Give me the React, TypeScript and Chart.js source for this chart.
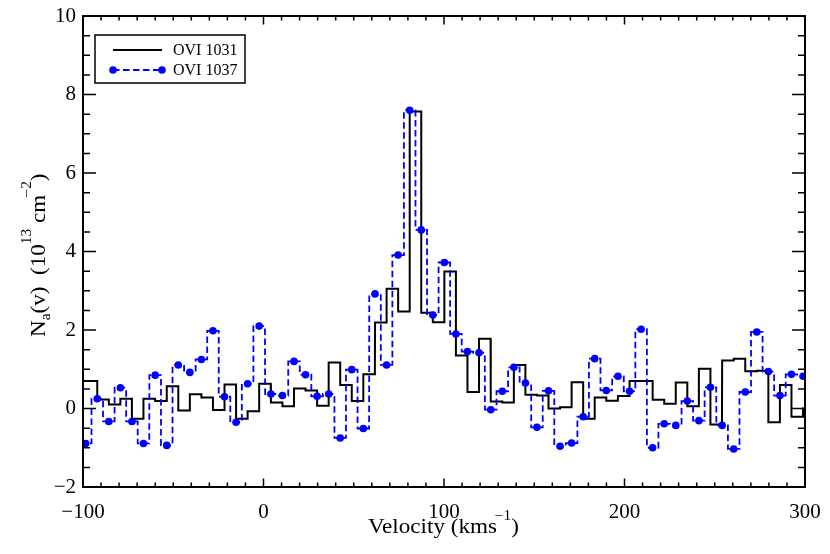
import React, { useEffect, useRef } from 'react';
import { Chart, registerables } from 'chart.js';

Chart.register(...registerables);

// ---------------- data ----------------
// OVI 1037: bin-centre velocities (km/s) and apparent column density (10^13 cm^-2)
const VEL_1037 = [
  -98.5, -92.1, -85.7, -79.3, -72.9, -66.5, -60.0, -53.6, -47.2, -40.8,
  -34.4, -28.0, -21.6, -15.2, -8.8, -2.4, 4.1, 10.5, 16.9, 23.3,
  29.7, 36.1, 42.5, 48.9, 55.3, 61.8, 68.2, 74.6, 81.0, 87.4,
  93.8, 100.2, 106.6, 113.0, 119.4, 125.9, 132.3, 138.7, 145.1, 151.5,
  157.9, 164.3, 170.7, 177.1, 183.5, 189.9, 196.4, 202.8, 209.2, 215.6,
  222.0, 228.4, 234.8, 241.2, 247.6, 254.1, 260.5, 266.9, 273.3, 279.7,
  286.1, 292.5, 298.9,
];
const NA_1037 = [
  -0.89, 0.25, -0.33, 0.53, -0.33, -0.89, 0.85, -0.94, 1.11, 0.92,
  1.25, 1.98, 0.30, -0.35, 0.63, 2.10, 0.37, 0.33, 1.20, 0.86,
  0.31, 0.37, -0.75, 0.99, -0.51, 2.92, 1.11, 3.91, 7.60, 4.55,
  2.38, 3.72, 1.90, 1.45, 1.42, -0.03, 0.44, 1.05, 0.65, -0.48,
  0.45, -0.96, -0.88, -0.21, 1.27, 0.46, 0.82, 0.44, 2.02, -1.00,
  -0.39, -0.43, 0.19, -0.31, 0.54, -0.43, -1.03, 0.42, 1.95, 0.94,
  0.33, 0.87, 0.82,
];

// OVI 1031: bin-centre velocities (km/s) and apparent column density (10^13 cm^-2)
const VEL_1031 = [
  -101.7, -95.3, -88.9, -82.5, -76.1, -69.7, -63.3, -56.8, -50.4, -44.0,
  -37.6, -31.2, -24.8, -18.4, -12.0, -5.6, 0.8, 7.3, 13.7, 20.1,
  26.5, 32.9, 39.3, 45.7, 52.1, 58.5, 65.0, 71.4, 77.8, 84.2,
  90.6, 97.0, 103.4, 109.8, 116.2, 122.6, 129.1, 135.5, 141.9, 148.3,
  154.7, 161.1, 167.5, 173.9, 180.3, 186.7, 193.1, 199.6, 206.0, 212.4,
  218.8, 225.2, 231.6, 238.0, 244.4, 250.8, 257.3, 263.7, 270.1, 276.5,
  282.9, 289.3, 295.7, 302.1,
];
const NA_1031 = [
  0.70, 0.70, 0.23, 0.10, 0.25, -0.26, 0.25, 0.19, 0.57, -0.05,
  0.36, 0.28, -0.04, 0.61, -0.26, -0.07, 0.63, 0.15, 0.06, 0.51,
  0.46, 0.07, 1.17, 0.60, 0.19, 0.87, 2.19, 3.05, 2.47, 7.57,
  2.44, 2.20, 3.49, 1.35, 0.42, 1.78, 0.18, 0.15, 1.11, 0.35,
  0.33, 0.00, 0.03, 0.67, -0.26, 0.28, 0.20, 0.32, 0.70, 0.70,
  0.22, 0.12, 0.66, 0.06, 1.01, -0.41, 1.22, 1.27, 0.95, 0.96,
  -0.35, 0.60, -0.21, 0.00,
];

const BIN_HALF_WIDTH = 3.2;
const X_MIN = -100;
const X_MAX = 300;
const Y_MIN = -2;
const Y_MAX = 10;
const X_MAJOR = 100;
const X_MINOR = 10;
const Y_MAJOR = 2;
const Y_MINOR = 0.5;
const LEGEND_LABELS = ['OVI 1031', 'OVI 1037'];

const BLUE = '#0000ff';
const SERIF = '"Liberation Serif", "DejaVu Serif", serif';

// histogram outline from bin centres
function histogram(vel: number[], val: number[], half: number) {
  const pts: { x: number; y: number }[] = [];
  for (let i = 0; i < vel.length; i++) {
    pts.push({ x: vel[i] - half, y: val[i] });
    pts.push({ x: vel[i] + half, y: val[i] });
  }
  return pts;
}

function fmt(v: number) {
  return v < 0 ? '\u2212' + Math.abs(v) : String(v);
}

type Part = { t: string; mode?: 'sup' | 'sub'; kern?: number };

// draw text pieces with super/subscripts along the baseline at (x, y), horizontally stretched by h
function drawRich(ctx: CanvasRenderingContext2D, parts: Part[], size: number, x: number, y: number, h: number) {
  ctx.save();
  ctx.translate(x, y);
  ctx.scale(h, 1);
  let cx = 0;
  for (const p of parts) {
    const s = p.mode ? Math.round(size * 0.66) : size;
    ctx.font = `${s}px ${SERIF}`;
    const dy = p.mode === 'sup' ? -size * 0.64 : p.mode === 'sub' ? size * 0.25 : 0;
    cx += p.kern || 0;
    ctx.fillText(p.t, cx, dy);
    cx += ctx.measureText(p.t).width;
  }
  ctx.restore();
}

function noPad(s: any) {
  s.paddingLeft = 0;
  s.paddingRight = 0;
  s.paddingTop = 0;
  s.paddingBottom = 0;
}

const decorPlugin = {
  id: 'decor',
  afterDatasetsDraw(chart: any) {
    const { ctx, chartArea: a, scales } = chart;
    const xs = scales.x;
    const ys = scales.y;
    ctx.save();
    ctx.strokeStyle = '#000';
    ctx.fillStyle = '#000';

    // frame
    ctx.lineWidth = 2;
    ctx.strokeRect(a.left, a.top, a.right - a.left, a.bottom - a.top);

    // ticks on all four sides, pointing inward
    ctx.lineWidth = 1.5;
    ctx.beginPath();
    const nx = Math.round((X_MAX - X_MIN) / X_MINOR);
    for (let k = 0; k <= nx; k++) {
      const v = X_MIN + k * X_MINOR;
      const px = xs.getPixelForValue(v);
      const major = Math.abs(v / X_MAJOR - Math.round(v / X_MAJOR)) < 1e-6;
      const len = major ? 8.5 : 4.5;
      ctx.moveTo(px, a.bottom);
      ctx.lineTo(px, a.bottom - len);
      ctx.moveTo(px, a.top);
      ctx.lineTo(px, a.top + len);
    }
    const ny = Math.round((Y_MAX - Y_MIN) / Y_MINOR);
    for (let k = 0; k <= ny; k++) {
      const v = Y_MIN + k * Y_MINOR;
      const py = ys.getPixelForValue(v);
      const major = Math.abs(v / Y_MAJOR - Math.round(v / Y_MAJOR)) < 1e-6;
      const len = major ? 13 : 7;
      ctx.moveTo(a.left, py);
      ctx.lineTo(a.left + len, py);
      ctx.moveTo(a.right, py);
      ctx.lineTo(a.right - len, py);
    }
    ctx.stroke();

    // legend
    const lx = 95, ly = 35, lw = 150, lh = 48;
    ctx.lineWidth = 1.5;
    ctx.strokeRect(lx, ly, lw, lh);
    const x0 = 113, x1 = 162;
    const r1 = 50, r2 = 70;
    ctx.lineWidth = 2;
    ctx.beginPath();
    ctx.moveTo(x0, r1);
    ctx.lineTo(x1, r1);
    ctx.stroke();
    ctx.strokeStyle = BLUE;
    ctx.fillStyle = BLUE;
    ctx.lineWidth = 1.8;
    ctx.setLineDash([6.5, 3.5]);
    ctx.beginPath();
    ctx.moveTo(x0, r2);
    ctx.lineTo(x1, r2);
    ctx.stroke();
    ctx.setLineDash([]);
    for (const cx of [x0, x1]) {
      ctx.beginPath();
      ctx.arc(cx, r2, 3.8, 0, Math.PI * 2);
      ctx.fill();
    }
    ctx.fillStyle = '#000';
    ctx.font = `16px ${SERIF}`;
    ctx.textBaseline = 'middle';
    ctx.textAlign = 'left';
    ctx.fillText(LEGEND_LABELS[0], 173, r1 + 1);
    ctx.fillText(LEGEND_LABELS[1], 173, r2 + 1);

    // axis titles
    ctx.textBaseline = 'alphabetic';
    drawRich(
      ctx,
      [{ t: 'Velocity (kms' }, { t: '\u22121', mode: 'sup', kern: -2 }, { t: ')' }],
      21,
      368,
      533,
      1.1
    );
    ctx.save();
    ctx.translate(44.5, 337);
    ctx.rotate(-Math.PI / 2);
    drawRich(
      ctx,
      [
        { t: 'N' },
        { t: 'a', mode: 'sub' },
        { t: '(v)  (10' },
        { t: '13', mode: 'sup' },
        { t: ' cm' },
        { t: '\u22122', mode: 'sup', kern: -2.5 },
        { t: ')' },
      ],
      21,
      0,
      0,
      1.1
    );
    ctx.restore();
    ctx.restore();
  },
};

export default function App() {
  const ref = useRef<HTMLCanvasElement | null>(null);

  useEffect(() => {
    if (!ref.current) return;
    const chart = new Chart(ref.current, {
      type: 'scatter',
      data: {
        datasets: [
          {
            label: LEGEND_LABELS[1] + ' points',
            data: VEL_1037.map((v, i) => ({ x: v, y: NA_1037[i] })),
            showLine: false,
            pointRadius: 3.8,
            pointBackgroundColor: BLUE,
            pointBorderWidth: 0,
            order: 1,
          },
          {
            label: LEGEND_LABELS[1],
            data: histogram(VEL_1037, NA_1037, BIN_HALF_WIDTH),
            showLine: true,
            borderColor: BLUE,
            borderWidth: 1.8,
            borderDash: [6.5, 3.5],
            pointRadius: 0,
            tension: 0,
            order: 2,
          },
          {
            label: LEGEND_LABELS[0],
            data: histogram(VEL_1031, NA_1031, BIN_HALF_WIDTH),
            showLine: true,
            borderColor: '#000',
            borderWidth: 2,
            pointRadius: 0,
            tension: 0,
            order: 3,
          },
        ],
      },
      options: {
        animation: false,
        responsive: false,
        events: [],
        layout: { padding: { top: 16, right: 25, left: 0, bottom: 0 } },
        plugins: {
          legend: { display: false },
          tooltip: { enabled: false },
          title: { display: false },
        },
        scales: {
          x: {
            type: 'linear',
            position: 'bottom',
            min: X_MIN,
            max: X_MAX,
            afterFit: (s: any) => {
              s.height = 67;
              noPad(s);
            },
            grid: { display: false, drawTicks: false },
            border: { display: false },
            ticks: {
              stepSize: X_MAJOR,
              autoSkip: false,
              maxRotation: 0,
              padding: 13,
              color: '#000',
              font: { family: SERIF, size: 21 },
              callback: (v: any) => fmt(Number(v)),
            },
          },
          y: {
            type: 'linear',
            position: 'left',
            min: Y_MIN,
            max: Y_MAX,
            afterFit: (s: any) => {
              s.width = 83;
              noPad(s);
            },
            grid: { display: false, drawTicks: false },
            border: { display: false },
            ticks: {
              stepSize: Y_MAJOR,
              autoSkip: false,
              padding: 7,
              color: '#000',
              font: { family: SERIF, size: 21 },
              callback: (v: any) => fmt(Number(v)),
            },
          },
        },
      },
      plugins: [decorPlugin],
    });
    return () => chart.destroy();
  }, []);

  return (
    <div style={{ position: 'absolute', left: 0, top: 0, width: 830, height: 554, background: '#fff' }}>
      <canvas ref={ref} width={830} height={554} />
    </div>
  );
}
